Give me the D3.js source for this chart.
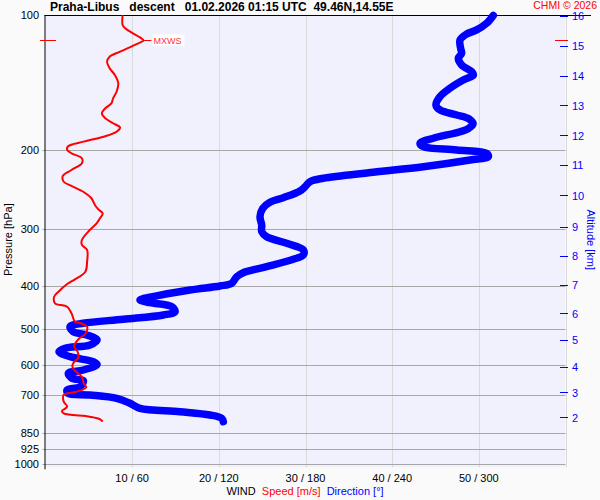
<!DOCTYPE html>
<html><head><meta charset="utf-8">
<script src="https://cdn.jsdelivr.net/npm/d3@7"></script>
<style>
html,body{margin:0;padding:0;background:#fafafa;}
svg{display:block;font-family:"Liberation Sans",Arial,sans-serif;}
</style></head>
<body>
<svg id="c" width="600" height="500"></svg>
<script>
// ---------- data ----------
const pressureTicks = [100, 200, 300, 400, 500, 600, 700, 850, 925, 1000];
const speedTicks = [10, 20, 30, 40, 50];
const speedTickLabels = ["10 / 60", "20 / 120", "30 / 180", "40 / 240", "50 / 300"];
const altitudeKm = [2, 3, 4, 5, 6, 7, 8, 9, 10, 11, 12, 13, 14, 15, 16];
const altitudeP = [785.8, 691.3, 607.2, 528.7, 461.1, 398.8, 343.2, 295.8, 251.8, 215.6, 185.2, 158.8, 136.4, 117.0, 100.3];

// wind speed profile [m/s] vs pressure [hPa]
const speedP = [100.0,105.2,107.0,109.8,112.1,113.9,116.0,120.6,123.8,127.0,131.3,135.9,141.8,148.1,153.2,157.2,161.2,165.4,169.7,174.1,177.9,181.8,186.5,191.3,195.9,199.6,203.1,208.3,213.7,221.2,228.1,234.9,240.1,247.6,255.7,264.7,270.6,276.5,282.9,290.7,300.9,316.7,324.9,333.3,353.9,372.6,387.4,396.8,412.8,423.5,438.1,445.8,461.1,481.4,484.6,493.9,502.3,512.7,526.8,547.2,561.4,577.7,595.7,606.3,622.0,638.2,660.2,673.8,689.2,700.9,725.4,744.3,760.8,769.8,783.3,793.9,803.7];
const speedV = [8.9,8.9,9.2,10.1,10.9,11.3,10.5,8.6,7.4,7.1,7.4,8.0,8.4,8.2,7.8,7.6,6.9,6.5,6.9,7.8,8.6,8.2,6.7,4.4,2.6,2.5,3.0,4.2,4.2,3.0,2.0,2.1,3.0,4.4,5.3,5.7,6.1,6.6,6.3,5.9,5.1,4.2,4.2,4.8,4.8,4.6,3.4,2.5,1.5,1.0,1.1,2.5,3.0,3.4,4.0,4.8,4.8,4.6,3.8,3.3,3.7,3.8,3.2,3.1,3.5,4.2,4.4,4.7,3.6,2.1,2.1,2.5,1.9,2.1,5.1,6.3,6.6];

// wind direction profile [deg] vs pressure [hPa]
const dirP = [100.2,104.3,107.9,110.2,113.6,118.6,121.6,124.8,129.1,133.7,135.9,139.5,145.5,151.9,158.5,162.6,166.9,170.3,174.7,178.4,181.8,188.0,192.9,196.3,199.6,203.1,206.6,210.1,217.5,223.8,230.8,234.9,241.0,246.4,255.0,261.0,269.2,281.0,293.3,303.5,311.4,322.1,333.3,342.0,349.6,363.1,374.5,382.3,395.4,400.9,409.2,424.8,430.7,436.7,445.8,457.3,465.1,475.5,485.3,493.9,506.7,515.3,528.7,542.5,551.7,561.4,576.0,590.9,599.5,616.6,627.1,643.4,651.3,671.8,683.2,694.9,700.9,712.9,731.3,750.5,763.6,776.6,789.9,803.7];
const dirV = [310.0,305.4,298.5,291.6,287.0,287.4,288.1,285.8,288.1,295.1,296.2,289.2,280.0,273.1,270.3,273.1,284.7,293.2,296.0,293.2,287.0,268.5,259.3,261.6,284.7,305.4,306.6,293.9,261.6,226.9,192.3,183.1,179.7,176.2,164.6,155.4,150.4,148.5,149.7,149.7,153.1,167.0,178.5,178.5,171.6,153.1,136.9,132.4,128.9,120.8,100.0,72.3,65.4,72.3,87.4,89.7,81.6,53.9,26.2,17.0,19.2,28.5,35.7,30.8,13.5,9.3,17.0,33.1,35.7,26.2,15.8,18.3,26.2,23.9,14.9,15.6,30.8,49.3,58.5,65.4,93.1,113.9,122.0,123.1];

const maxWind = {p: 113.9, s: 11.3};

const titleText = "Praha-Libus   descent   01.02.2026 01:15 UTC  49.46N,14.55E";
const copyText = "CHMI \u00A9 2026";

// ---------- layout ----------
const svg = d3.select("#c");
const L = 45.5, R = 565.5, T = 15.1, B = 464.3;
const y = d3.scaleLog().domain([100, 1000]).range([T, B]);
const xs = d3.scaleLinear().domain([0, 60]).range([L, R]);
const xd = d3.scaleLinear().domain([0, 360]).range([L, R]);

// plot background
svg.append("rect").attr("x", L).attr("y", T).attr("width", R - L).attr("height", B - T + 3).attr("fill", "#f1f1fd");

// vertical grid
svg.selectAll(".vg").data(speedTicks.concat([60])).enter().append("line")
  .attr("x1", d => Math.round(xs(d)) + 0.5).attr("x2", d => Math.round(xs(d)) + 0.5)
  .attr("y1", T).attr("y2", B + 3).attr("stroke", "#dadada").attr("stroke-width", 1);

// horizontal grid
svg.selectAll(".hg").data(pressureTicks.slice(1)).enter().append("line")
  .attr("x1", L - 3).attr("x2", R).attr("y1", d => Math.round(y(d)) + 0.5).attr("y2", d => Math.round(y(d)) + 0.5)
  .attr("stroke", "#a8a8a8").attr("stroke-width", 1);

// axes lines
svg.append("line").attr("x1", L - 0.5).attr("x2", L - 0.5).attr("y1", T).attr("y2", B + 5).attr("stroke", "#000");
svg.append("line").attr("x1", L - 1).attr("x2", 591).attr("y1", Math.round(T) + 0.5).attr("y2", Math.round(T) + 0.5).attr("stroke", "#000");

// pressure labels
svg.selectAll(".pl").data(pressureTicks).enter().append("text")
  .attr("x", 39).attr("y", d => y(d) + 4).attr("text-anchor", "end")
  .attr("font-size", 11).attr("fill", "#000").text(d => d);

// bottom labels
svg.selectAll(".bl").data(speedTicks).enter().append("text")
  .attr("x", d => xs(d)).attr("y", 482).attr("text-anchor", "middle")
  .attr("font-size", 11).attr("fill", "#000").text((d, i) => speedTickLabels[i]);

// legend
const leg = svg.append("text").attr("x", 305).attr("y", 495).attr("text-anchor", "middle").attr("font-size", 11).attr("xml:space", "preserve");
leg.append("tspan").attr("fill", "#000").text("WIND  ");
leg.append("tspan").attr("fill", "#ff0000").text("Speed [m/s]  ");
leg.append("tspan").attr("fill", "#0000ff").text("Direction [\u00B0]");

// axis titles
svg.append("text").attr("transform", "translate(12," + ((T + B) / 2) + ") rotate(-90)")
  .attr("text-anchor", "middle").attr("font-size", 11).attr("fill", "#000").text("Pressure [hPa]");
svg.append("text").attr("transform", "translate(587," + ((T + B) / 2) + ") rotate(90)")
  .attr("text-anchor", "middle").attr("font-size", 11).attr("fill", "#0000ff").text("Altitude [km]");

// altitude ticks
svg.selectAll(".at").data(altitudeKm).enter().append("line")
  .attr("x1", 560).attr("x2", 568).attr("y1", (d, i) => Math.round(y(altitudeP[i])) + 0.5).attr("y2", (d, i) => Math.round(y(altitudeP[i])) + 0.5)
  .attr("stroke", "#0000ff").attr("stroke-width", 1);
svg.selectAll(".al").data(altitudeKm).enter().append("text")
  .attr("x", 572).attr("y", (d, i) => y(altitudeP[i]) + 4.5).attr("font-size", 11).attr("fill", "#0000ff").text(d => d);

// data lines
const spdLine = d3.line().x(d => xs(d[1])).y(d => y(d[0])).curve(d3.curveCatmullRom);
const dirLine = d3.line().x(d => xd(d[1])).y(d => y(d[0])).curve(d3.curveCatmullRom);

svg.append("path").datum(dirP.map((p, i) => [p, dirV[i]]))
  .attr("d", dirLine).attr("fill", "none").attr("stroke", "#0000ff").attr("stroke-width", 7.5)
  .attr("stroke-linecap", "round").attr("stroke-linejoin", "round");
svg.append("path").datum(speedP.map((p, i) => [p, speedV[i]]))
  .attr("d", spdLine).attr("fill", "none").attr("stroke", "#ff0000").attr("stroke-width", 2)
  .attr("stroke-linejoin", "round");

// MXWS marker
const my = Math.round(y(maxWind.p)) + 0.5;
svg.append("line").attr("x1", 40).attr("x2", 56).attr("y1", my).attr("y2", my).attr("stroke", "#ff0000");
svg.append("line").attr("x1", 555).attr("x2", 568).attr("y1", my).attr("y2", my).attr("stroke", "#ff0000");
svg.append("line").attr("x1", xs(maxWind.s)).attr("x2", xs(maxWind.s) + 8).attr("y1", my).attr("y2", my).attr("stroke", "#ff0000");
svg.append("rect").attr("x", xs(maxWind.s) + 9).attr("y", my - 6).attr("width", 32).attr("height", 11).attr("fill", "#ffffff");
svg.append("text").attr("x", xs(maxWind.s) + 10).attr("y", my + 3.5).attr("font-size", 9).attr("fill", "#ff3333").text("MXWS");

// title
svg.append("text").attr("x", 50).attr("y", 11).attr("font-size", 12).attr("font-weight", "bold")
  .attr("fill", "#000").attr("xml:space", "preserve").style("white-space", "pre").text(titleText);
svg.append("text").attr("x", 597).attr("y", 9).attr("text-anchor", "end").attr("font-size", 10.5)
  .attr("fill", "#ff0000").text(copyText);
</script>
</body></html>
